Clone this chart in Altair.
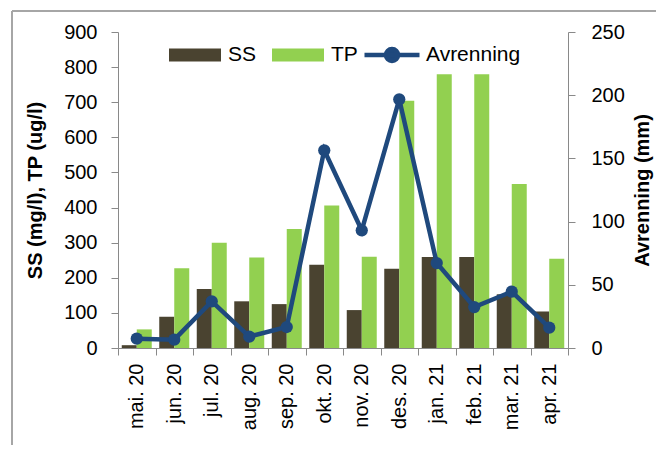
import altair as alt
import pandas as pd

months = ["mai. 20", "jun. 20", "jul. 20", "aug. 20", "sep. 20", "okt. 20",
          "nov. 20", "des. 20", "jan. 21", "feb. 21", "mar. 21", "apr. 21"]
ss = [8, 89, 168, 133, 125, 237, 108, 226, 259, 259, 153, 104]
tp = [53, 227, 300, 258, 339, 406, 260, 704, 780, 780, 467, 254]
avrenning = [7.4, 6.6, 36.9, 9.0, 16.6, 156.4, 93.1, 196.7, 67.2, 32.4, 44.6, 16.1]

left_ticks = list(range(0, 901, 100))
right_ticks = list(range(0, 251, 50))

C_SS = "#4A4330"
C_TP = "#92D050"
C_LINE = "#1F497D"
AX = "#898989"
FONT = "Liberation Sans"

bars_df = pd.DataFrame({
    "month": months * 2,
    "series": ["SS"] * len(months) + ["TP"] * len(months),
    "value": ss + tp,
})
line_df = pd.DataFrame({"month": months, "serie": ["Avrenning"] * len(months), "avr": avrenning})

x_enc = alt.X("month:N", sort=months,
              scale=alt.Scale(paddingInner=0, paddingOuter=0),
              axis=alt.Axis(title=None, labelAngle=270, tickBand="extent",
                            labelPadding=8, labelFontSize=20))

bars = alt.Chart(bars_df).mark_bar().encode(
    x=x_enc,
    xOffset=alt.XOffset("series:N", sort=["SS", "TP"],
                        scale=alt.Scale(paddingInner=0, paddingOuter=0.25)),
    y=alt.Y("value:Q", scale=alt.Scale(domain=[0, 900], nice=False),
            axis=alt.Axis(orient="left", values=left_ticks, title="SS (mg/l), TP (ug/l)",
                          titleFontWeight="bold", titlePadding=18, labelPadding=14)),
    color=alt.Color("series:N", sort=["SS", "TP"],
                    scale=alt.Scale(domain=["SS", "TP"], range=[C_SS, C_TP]),
                    legend=alt.Legend(orient="none", legendX=50, legendY=-4, direction="horizontal",
                                      title=None, symbolType="M-1,-0.25H1V0.25H-1Z",
                                      symbolSize=2704, labelFontSize=21, columnPadding=14,
                                      symbolOpacity=1, labelOffset=6)),
)

line = alt.Chart(line_df).mark_line(
    strokeWidth=4.5, point=alt.OverlayMarkDef(filled=True, size=150)
).encode(
    x=x_enc,
    y=alt.Y("avr:Q", scale=alt.Scale(domain=[0, 250], nice=False),
            axis=alt.Axis(orient="right", values=right_ticks, title="Avrenning (mm)",
                          titleFontWeight="bold", titleAngle=270, titleBaseline="top",
                          titlePadding=8, labelPadding=16)),
    color=alt.Color("serie:N", scale=alt.Scale(domain=["Avrenning"], range=[C_LINE]),
                    legend=alt.Legend(orient="none", legendX=244, legendY=-7, title=None,
                                      symbolType="M-1,0H1M0.22,0A0.22,0.22 0 1,1 -0.22,0A0.22,0.22 0 1,1 0.22,0Z",
                                      symbolSize=3025, symbolStrokeWidth=4.5,
                                      symbolFillColor=C_LINE, labelFontSize=21, labelOffset=4)),
)

frame_df = pd.DataFrame({"k": [0]})
frame_left = alt.Chart(frame_df).mark_rule(color="#A6A6A6", strokeWidth=2).encode(
    x=alt.value(-106), y=alt.value(-21), y2=alt.value(600))
frame_right = alt.Chart(frame_df).mark_rule(color="#A6A6A6", strokeWidth=2).encode(
    x=alt.value(543), y=alt.value(-21), y2=alt.value(600))
frame_top = alt.Chart(frame_df).mark_rule(color="#A6A6A6", strokeWidth=2).encode(
    x=alt.value(-106), x2=alt.value(543), y=alt.value(-21))

chart = alt.layer(bars, line, frame_left, frame_right, frame_top).resolve_scale(
    y="independent", color="independent"
).properties(
    width=450, height=316,
    autosize=alt.AutoSizeParams(type="none"),
    padding={"left": 110, "top": 24, "right": 88, "bottom": 97},
).configure_view(stroke=None).configure_axis(
    domainColor=AX, tickColor=AX, tickSize=7, grid=False,
    labelColor="black", titleColor="black", labelFont=FONT, titleFont=FONT,
    labelFontSize=20, titleFontSize=20,
).configure_legend(labelFont=FONT, labelColor="black")

chart.save("out.html", embed_options={"renderer": "svg", "actions": False})
